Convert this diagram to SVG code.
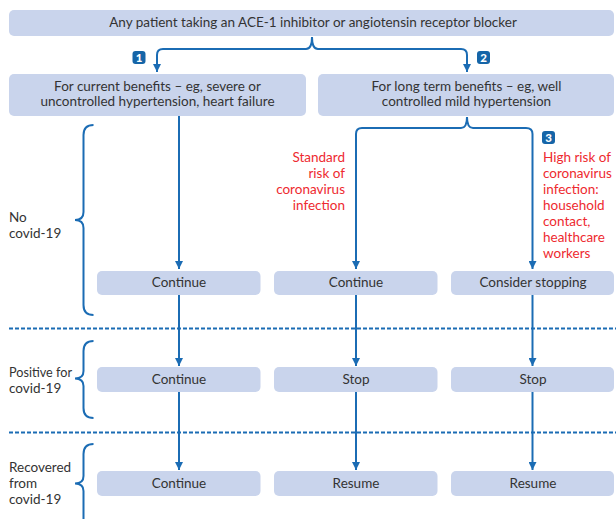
<svg xmlns="http://www.w3.org/2000/svg" width="616" height="519" viewBox="0 0 616 519">
<defs>
<marker id="ah" viewBox="0 0 8 8" refX="8" refY="4" markerWidth="8" markerHeight="8" markerUnits="userSpaceOnUse" orient="auto">
<path d="M0,0 L8,4 L0,8 Z" fill="#1b6cb4"/>
</marker>
<style>
.box{fill:#c9d4ec}
.t{font-family:Lato,"Open Sans",sans-serif;font-size:13.5px;fill:#333333}
.c{text-anchor:middle}
.red{font-family:Lato,"Open Sans",sans-serif;font-size:13.5px;fill:#ee2a2f}
.ln{fill:none;stroke:#1b6cb4;stroke-width:2}
.dash{fill:none;stroke:#1b6cb4;stroke-width:2;stroke-dasharray:4 2}
.badge{fill:#1565a8}
.bt{font-family:Lato,"Open Sans",sans-serif;font-size:11.5px;font-weight:900;fill:#fff;text-anchor:middle}
</style>
</defs>
<rect width="616" height="519" fill="#fff"/>

<g id="connectors">
<path class="ln" d="M157,72 L157,55 Q157,49 163,49 L306,49 Q312,49 312,37 Q312,49 318,49 L461,49 Q467,49 467,55 L467,72" marker-end="url(#ah)"/>
<path class="ln" d="M157,55 L157,72" marker-end="url(#ah)"/>
<path class="ln" d="M467,117 Q467,128 473,128 L526,128 Q532.5,128 532.5,134 L532.5,269" marker-end="url(#ah)"/>
<path class="ln" d="M467,117 Q467,128 461,128 L362,128 Q356,128 356,134 L356,269" marker-end="url(#ah)"/>
<path class="ln" d="M179,116 L179,269" marker-end="url(#ah)"/>
<path class="ln" d="M179,295 L179,366" marker-end="url(#ah)"/>
<path class="ln" d="M356,295 L356,366" marker-end="url(#ah)"/>
<path class="ln" d="M532.5,295 L532.5,366" marker-end="url(#ah)"/>
<path class="ln" d="M179,392 L179,470" marker-end="url(#ah)"/>
<path class="ln" d="M356,392 L356,470" marker-end="url(#ah)"/>
<path class="ln" d="M532.5,392 L532.5,470" marker-end="url(#ah)"/>
</g>

<g id="separators">
<line class="dash" x1="9" y1="328.5" x2="616" y2="328.5"/>
<line class="dash" x1="9" y1="432.5" x2="616" y2="432.5"/>
</g>

<g id="braces">
<path class="ln" d="M93.5,125 Q83.5,125 83.5,135 L83.5,212 Q83.5,220 75,220 Q83.5,220 83.5,228 L83.5,305 Q83.5,315 93.5,315"/>
<path class="ln" d="M93.5,341 Q83.5,341 83.5,351 L83.5,371 Q83.5,378.5 75,378.5 Q83.5,378.5 83.5,386 L83.5,408 Q83.5,418 93.5,418"/>
<path class="ln" d="M93.5,444 Q83.5,444 83.5,454 L83.5,476 Q83.5,483.5 75,483.5 Q83.5,483.5 83.5,491 L83.5,525"/>
</g>

<g id="top">
<rect class="box" x="9" y="10" width="605" height="26" rx="5"/>
<text class="t c" x="313" y="27">Any patient taking an ACE-1 inhibitor or angiotensin receptor blocker</text>
</g>

<g id="current">
<rect class="box" x="9" y="74" width="297" height="42" rx="5"/>
<text class="t c" x="157.5" y="90.5">For current benefits – eg, severe or</text>
<text class="t c" x="157.5" y="106">uncontrolled hypertension, heart failure</text>
</g>

<g id="longterm">
<rect class="box" x="318" y="74" width="296" height="42" rx="5"/>
<text class="t c" x="466.5" y="90.5">For long term benefits – eg, well</text>
<text class="t c" x="466.5" y="106">controlled mild hypertension</text>
</g>

<g id="badge1"><rect class="badge" x="132.5" y="51" width="13" height="13" rx="3"/><text class="bt" x="139" y="61.8">1</text></g>
<g id="badge2"><rect class="badge" x="477" y="51" width="13" height="13" rx="3"/><text class="bt" x="483.5" y="61.8">2</text></g>
<g id="badge3"><rect class="badge" x="542" y="131" width="13" height="13" rx="3"/><text class="bt" x="548.5" y="141.8">3</text></g>

<g id="standard-risk">
<text class="red" text-anchor="end" x="345" y="162">Standard</text>
<text class="red" text-anchor="end" x="345" y="178">risk of</text>
<text class="red" text-anchor="end" x="345" y="194">coronavirus</text>
<text class="red" text-anchor="end" x="345" y="210">infection</text>
</g>

<g id="high-risk">
<text class="red" x="543" y="162">High risk of</text>
<text class="red" x="543" y="178">coronavirus</text>
<text class="red" x="543" y="194">infection:</text>
<text class="red" x="543" y="210">household</text>
<text class="red" x="543" y="226">contact,</text>
<text class="red" x="543" y="242">healthcare</text>
<text class="red" x="543" y="258">workers</text>
</g>

<g id="label-no">
<text class="t" x="9" y="221.5">No</text>
<text class="t" x="9" y="237.5">covid-19</text>
</g>
<g id="label-positive">
<text class="t" x="9" y="376.5" textLength="63" lengthAdjust="spacingAndGlyphs">Positive for</text>
<text class="t" x="9" y="393">covid-19</text>
</g>
<g id="label-recovered">
<text class="t" x="9" y="471.5">Recovered</text>
<text class="t" x="9" y="488">from</text>
<text class="t" x="9" y="504">covid-19</text>
</g>

<g id="r1c1"><rect class="box" x="97" y="271" width="163.5" height="24" rx="5"/><text class="t c" x="179" y="287">Continue</text></g>
<g id="r1c2"><rect class="box" x="274" y="271" width="163.5" height="24" rx="5"/><text class="t c" x="356" y="287">Continue</text></g>
<g id="r1c3"><rect class="box" x="451" y="271" width="163" height="24" rx="5"/><text class="t c" x="533" y="287">Consider stopping</text></g>

<g id="r2c1"><rect class="box" x="97" y="367" width="163.5" height="25" rx="5"/><text class="t c" x="179" y="383.5">Continue</text></g>
<g id="r2c2"><rect class="box" x="274" y="367" width="163.5" height="25" rx="5"/><text class="t c" x="356" y="383.5">Stop</text></g>
<g id="r2c3"><rect class="box" x="451" y="367" width="163" height="25" rx="5"/><text class="t c" x="533" y="383.5">Stop</text></g>

<g id="r3c1"><rect class="box" x="97" y="471" width="163.5" height="25" rx="5"/><text class="t c" x="179" y="488">Continue</text></g>
<g id="r3c2"><rect class="box" x="274" y="471" width="163.5" height="25" rx="5"/><text class="t c" x="356" y="488">Resume</text></g>
<g id="r3c3"><rect class="box" x="451" y="471" width="163" height="25" rx="5"/><text class="t c" x="533" y="488">Resume</text></g>
</svg>
